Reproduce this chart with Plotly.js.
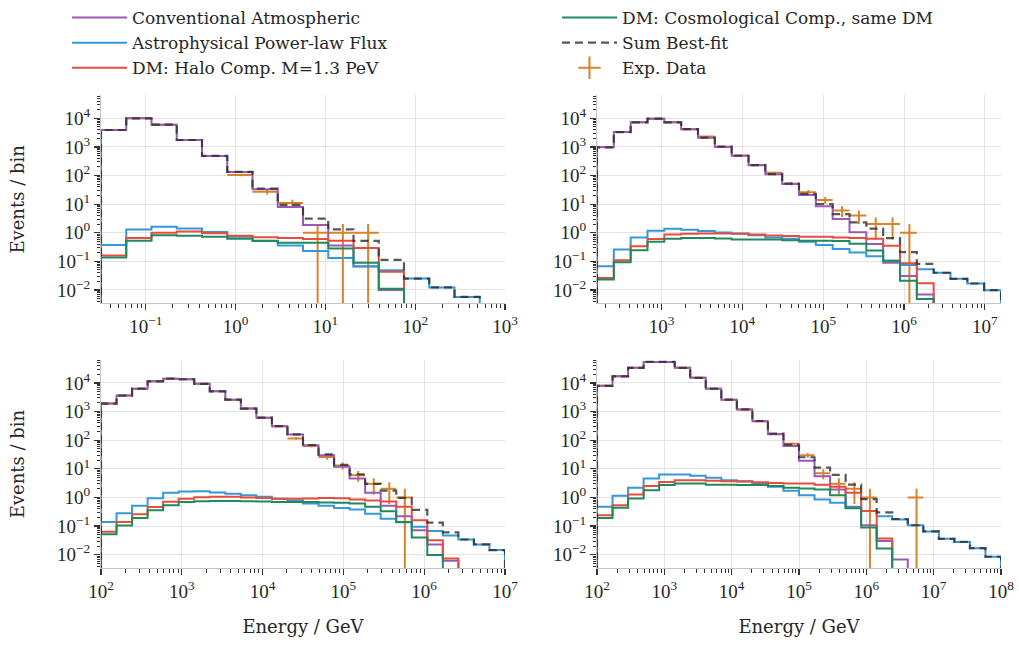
<!DOCTYPE html>
<html>
<head>
<meta charset="utf-8">
<script src="https://cdn.plot.ly/plotly-3.0.1.min.js"></script>
<style>html,body{margin:0;padding:0;background:#fff;}#chart{width:1019px;height:646px;}</style>
</head>
<body>
<div id="chart"></div>
<script>
// ---- Bin specs: [log10 Emin, log10 Emax, number of bins] ----
const binsA = [-1.5, 3, 16];
const binsB = [2.2, 7.2, 24];
const binsC = [2, 7, 26];
const binsD = [2, 8, 26];

// ---- Panel A (top-left) ----
const convA  = [3900, 10000, 6000, 1740, 480, 132, 33, 7.9, 1.85, 0.36, 0.066, 0.0099, 0, 0, 0, 0];
const astroA = [0.37, 1.3, 1.62, 1.4, 1.07, 0.73, 0.51, 0.36, 0.23, 0.13, 0.068, 0.049, 0.025, 0.0123, 0.0057, 0];
const haloA  = [0.16, 0.66, 1.0, 1.1, 0.96, 0.79, 0.69, 0.66, 0.60, 0.52, 0.29, 0.043, 0, 0, 0, 0];
const cosmoA = [0.135, 0.52, 0.81, 0.79, 0.73, 0.62, 0.52, 0.45, 0.45, 0.28, 0.089, 0.011, 0, 0, 0, 0];
const sumA   = [3900, 10000, 6000, 1744, 483, 134, 35, 9.4, 3.1, 1.3, 0.52, 0.113, 0.025, 0.0123, 0.0057, 0];
const dataA  = [3900, 10000, 6000, 1740, 480, 105, 27, 11, 1, 1, 1, null, null, null, null, null];

// ---- Panel B (top-right) ----
const convB  = [970, 3300, 7250, 9700, 7250, 4150, 2100, 1020, 490, 228, 110, 50, 21, 8.5, 3.0, 1.05, 0.40, 0.09, 0.031, 0.007, 0, 0, 0, 0];
const astroB = [0.068, 0.26, 0.68, 1.17, 1.37, 1.26, 1.14, 1.02, 0.94, 0.82, 0.68, 0.61, 0.48, 0.37, 0.27, 0.204, 0.152, 0.105, 0.074, 0.053, 0.040, 0.0245, 0.0168, 0.0098];
const haloB  = [0.026, 0.11, 0.34, 0.60, 0.87, 0.92, 0.94, 0.94, 0.92, 0.87, 0.80, 0.77, 0.72, 0.72, 0.68, 0.65, 0.61, 0.35, 0.085, 0.017, 0, 0, 0, 0];
const cosmoB = [0.023, 0.093, 0.245, 0.48, 0.62, 0.65, 0.65, 0.63, 0.58, 0.58, 0.58, 0.55, 0.52, 0.52, 0.51, 0.41, 0.24, 0.104, 0.021, 0.0048, 0, 0, 0, 0];
const sumB   = [970, 3300, 7250, 9700, 7250, 4150, 2100, 1020, 490, 230, 112, 52, 22.7, 10.1, 4.5, 2.3, 1.40, 0.65, 0.21, 0.082, 0.040, 0.0245, 0.0168, 0.0098];
const dataB  = [1000, 3300, 7300, 9700, 7200, 4100, 2300, 1000, 500, 235, 125, 52, 26, 14, 6, 4, 2, 2, 1, null, null, null, null, null];

// ---- Panel C (bottom-left) ----
const convC  = [1900, 3600, 6300, 11400, 14100, 13400, 9300, 5100, 2600, 1270, 610, 307, 158, 66, 30, 11.7, 4.6, 1.45, 0.51, 0.22, 0.072, 0.023, 0.0062, 0, 0, 0];
const astroC = [0.14, 0.28, 0.51, 0.93, 1.45, 1.62, 1.66, 1.48, 1.34, 1.2, 1.05, 0.90, 0.77, 0.61, 0.51, 0.43, 0.38, 0.27, 0.18, 0.135, 0.095, 0.067, 0.047, 0.034, 0.023, 0.0145];
const haloC  = [0.063, 0.138, 0.26, 0.46, 0.71, 0.90, 1.02, 1.05, 1.05, 1.0, 0.95, 0.90, 0.90, 0.92, 0.95, 0.93, 0.85, 0.78, 0.72, 0.47, 0.16, 0.032, 0.0074, 0, 0, 0];
const cosmoC = [0.052, 0.104, 0.19, 0.36, 0.54, 0.69, 0.74, 0.76, 0.76, 0.74, 0.73, 0.69, 0.69, 0.69, 0.67, 0.65, 0.61, 0.47, 0.33, 0.14, 0.040, 0.0097, 0, 0, 0, 0];
const sumC   = [1900, 3600, 6300, 11400, 14100, 13400, 9300, 5100, 2600, 1273, 613, 310, 160, 68, 32, 13.7, 6.4, 2.97, 1.74, 0.965, 0.367, 0.132, 0.060, 0.034, 0.023, 0.0145];
const dataC  = [1900, 3600, 6300, 11400, 14100, 13400, 9300, 5100, 2600, 1270, 610, 307, 115, 63, 26, 13, 6, 3, 2, 1, null, null, null, null, null, null];

// ---- Panel D (bottom-right) ----
const convD  = [7900, 17000, 33500, 54000, 54000, 33500, 15000, 6300, 2600, 1180, 460, 162, 63, 19, 5.5, 1.9, 0.47, 0.107, 0.030, 0.0068, 0, 0, 0, 0, 0, 0];
const astroD = [0.47, 1.15, 2.2, 4.6, 6.3, 6.3, 5.7, 4.9, 4.0, 3.7, 3.1, 2.35, 1.7, 1.2, 0.85, 0.65, 0.45, 0.34, 0.22, 0.17, 0.107, 0.065, 0.036, 0.028, 0.017, 0.0085];
const haloD  = [0.24, 0.54, 1.26, 2.5, 3.5, 4.0, 4.0, 3.8, 3.7, 3.6, 3.4, 3.2, 3.1, 3.1, 2.8, 2.35, 1.45, 0.34, 0.037, 0, 0, 0, 0, 0, 0, 0];
const cosmoD = [0.19, 0.44, 0.92, 1.8, 2.7, 3.1, 3.1, 2.8, 2.8, 2.7, 2.7, 2.5, 2.2, 2.05, 1.9, 1.2, 0.42, 0.09, 0.0166, 0, 0, 0, 0, 0, 0, 0];
const sumD   = [7900, 17000, 33500, 54000, 54000, 33500, 15000, 6300, 2600, 1190, 467, 170, 70, 25.4, 11.05, 6.1, 2.8, 0.88, 0.30, 0.177, 0.107, 0.065, 0.036, 0.028, 0.017, 0.0085];
const dataD  = [7900, 17000, 33500, 54000, 54000, 33500, 15000, 6300, 2600, 1180, 460, 165, 75, 30, 7, 3, 2, 1, null, null, 1, null, null, null, null, null];

const seriesNames = ['Conventional Atmospheric', 'Astrophysical Power-law Flux', 'DM: Halo Comp. M=1.3 PeV',
                     'DM: Cosmological Comp., same DM', 'Sum Best-fit', 'Exp. Data'];
// tick exponents (labels 10^n)
const xTickExpA = [-1, 0, 1, 2, 3];
const xTickExpB = [3, 4, 5, 6, 7];
const xTickExpC = [2, 3, 4, 5, 6, 7];
const xTickExpD = [2, 3, 4, 5, 6, 7, 8];
const yTickExp = [-2, -1, 0, 1, 2, 3, 4];
const xRanges = [[-1.5, 3], [2.2, 7.2], [2, 7], [2, 8]];
const yRange = [-2.47, 4.8];

// ---- styling ----
const COLORS = {conv: '#9b59b6', astro: '#3498db', halo: '#e74c3c', cosmo: '#1f8a5c', sum: 'rgba(45,45,45,0.8)', data: '#d9822b'};
const TICKFONT = '"Liberation Serif", serif';
const TEXTFONT = '"DejaVu Serif", serif';
const FLOOR = 1e-9;

const panels = [
  {bins: binsA, conv: convA, astro: astroA, halo: haloA, cosmo: cosmoA, sum: sumA, data: dataA},
  {bins: binsB, conv: convB, astro: astroB, halo: haloB, cosmo: cosmoB, sum: sumB, data: dataB},
  {bins: binsC, conv: convC, astro: astroC, halo: haloC, cosmo: cosmoC, sum: sumC, data: dataC},
  {bins: binsD, conv: convD, astro: astroD, halo: haloD, cosmo: cosmoD, sum: sumD, data: dataD}
];

function edgesOf(b) {
  const e = [];
  for (let k = 0; k <= b[2]; k++) e.push(Math.pow(10, b[0] + k * (b[1] - b[0]) / b[2]));
  return e;
}
function steps(edges, vals) {
  let last = -1;
  vals.forEach((v, i) => { if (v > 0) last = i; });
  const xs = [edges[0]], ys = [FLOOR];
  for (let i = 0; i <= last; i++) { xs.push(edges[i]); ys.push(vals[i] > 0 ? vals[i] : FLOOR); }
  xs.push(edges[last + 1]); ys.push(FLOOR);
  return {xs, ys};
}
function powLabel(n) { return '10<sup>' + (n < 0 ? '\u2212' + (-n) : n) + '</sup>'; }

const traces = [];
panels.forEach((p, idx) => {
  const n = idx + 1;
  const xa = n === 1 ? 'x' : 'x' + n;
  const ya = n === 1 ? 'y' : 'y' + n;
  const edges = edgesOf(p.bins);
  const dx = [], dy = [], ex = [], exm = [], ey = [];
  p.data.forEach((v, i) => {
    if (v == null) return;
    const lo = edges[i], hi = edges[i + 1], xc = (lo + hi) / 2;
    dx.push(xc); dy.push(v); ex.push(hi - xc); exm.push(xc - lo); ey.push(Math.sqrt(v));
  });
  traces.push({
    x: dx, y: dy, xaxis: xa, yaxis: ya, type: 'scatter', mode: 'markers',
    marker: {size: 1, color: 'rgba(0,0,0,0)'}, showlegend: false, hoverinfo: 'skip',
    error_x: {type: 'data', array: ex, arrayminus: exm, symmetric: false, width: 0, thickness: 2, color: COLORS.data},
    error_y: {type: 'data', array: ey, arrayminus: ey, symmetric: false, width: 0, thickness: 2, color: COLORS.data}
  });
  const series = [['conv', 0, 'legend'], ['astro', 1, 'legend'], ['halo', 2, 'legend'], ['cosmo', 3, 'legend2']];
  series.forEach(([key, ni, lg]) => {
    const s = steps(edges, p[key]);
    traces.push({
      x: s.xs, y: s.ys, xaxis: xa, yaxis: ya, type: 'scatter', mode: 'lines',
      line: {shape: 'hv', color: COLORS[key], width: 2},
      name: seriesNames[ni], legend: lg, showlegend: idx === 0, legendrank: ni + 1
    });
  });
  const s = steps(edges, p.sum);
  traces.push({
    x: s.xs, y: s.ys, xaxis: xa, yaxis: ya, type: 'scatter', mode: 'lines',
    line: {shape: 'hv', color: COLORS.sum, width: 2.2, dash: '8px,5px'},
    name: seriesNames[4], legend: 'legend2', showlegend: idx === 0, legendrank: 5
  });
});
traces.push({
  x: [null], y: [null], type: 'scatter', mode: 'markers', xaxis: 'x', yaxis: 'y',
  marker: {symbol: 'cross-thin-open', size: 20, color: COLORS.data, line: {color: COLORS.data, width: 2}},
  name: seriesNames[5], legend: 'legend2', showlegend: true, legendrank: 6
});

const W = 1019, H = 646;
const xDomL = [101 / W, 505 / W], xDomR = [597 / W, 1001 / W];
const yDomT = [1 - 303.4 / H, 1 - 95.4 / H], yDomB = [1 - 568.2 / H, 1 - 360 / H];

const common = {
  type: 'log', showgrid: true, gridcolor: '#e4e4e4', gridwidth: 1, zeroline: false,
  showline: true, linecolor: '#c4c4c4', linewidth: 1,
  ticks: 'outside', ticklen: 6, tickwidth: 1.2, tickcolor: '#333',
  minor: {ticks: 'outside', ticklen: 3.5, tickwidth: 1, tickcolor: '#333', dtick: 'D1', showgrid: false},
  tickfont: {family: TICKFONT, size: 19, color: '#262626'}
};
function xAxis(r, dom, anchor, exps, showTitle) {
  return Object.assign({}, common, {
    range: r, domain: dom, anchor: anchor, tickmode: 'array',
    tickvals: exps.map(e => Math.pow(10, e)), ticktext: exps.map(powLabel),
    title: showTitle ? {text: 'Energy / GeV', font: {family: TEXTFONT, size: 18, color: '#262626'}, standoff: 19} : {text: ''}
  });
}
function yAxis(dom, anchor, showTitle) {
  return Object.assign({}, common, {
    range: yRange, domain: dom, anchor: anchor, tickmode: 'array',
    tickvals: yTickExp.map(e => Math.pow(10, e)), ticktext: yTickExp.map(powLabel),
    title: showTitle ? {text: 'Events / bin', font: {family: TEXTFONT, size: 18, color: '#262626'}, standoff: 27} : {text: ''}
  });
}

const legendCommon = {y: 1, xanchor: 'left', yanchor: 'top', bgcolor: 'rgba(0,0,0,0)', borderwidth: 0,
  font: {family: TEXTFONT, size: 17, color: '#262626'}, itemwidth: 55, tracegroupgap: 0, traceorder: 'normal'};

const layout = {
  width: W, height: H, margin: {l: 0, r: 0, t: 0, b: 0},
  paper_bgcolor: '#fff', plot_bgcolor: '#fff',
  font: {family: TEXTFONT, size: 18, color: '#262626'},
  xaxis: xAxis(xRanges[0], xDomL, 'y', xTickExpA, false),
  yaxis: yAxis(yDomT, 'x', true),
  xaxis2: xAxis(xRanges[1], xDomR, 'y2', xTickExpB, false),
  yaxis2: yAxis(yDomT, 'x2', false),
  xaxis3: xAxis(xRanges[2], xDomL, 'y3', xTickExpC, true),
  yaxis3: yAxis(yDomB, 'x3', true),
  xaxis4: xAxis(xRanges[3], xDomR, 'y4', xTickExpD, true),
  yaxis4: yAxis(yDomB, 'x4', false),
  legend: Object.assign({x: 67 / W}, legendCommon),
  legend2: Object.assign({x: 557 / W}, legendCommon),
  showlegend: true
};

Plotly.newPlot('chart', traces, layout, {staticPlot: true, displayModeBar: false});
</script>
</body>
</html>
